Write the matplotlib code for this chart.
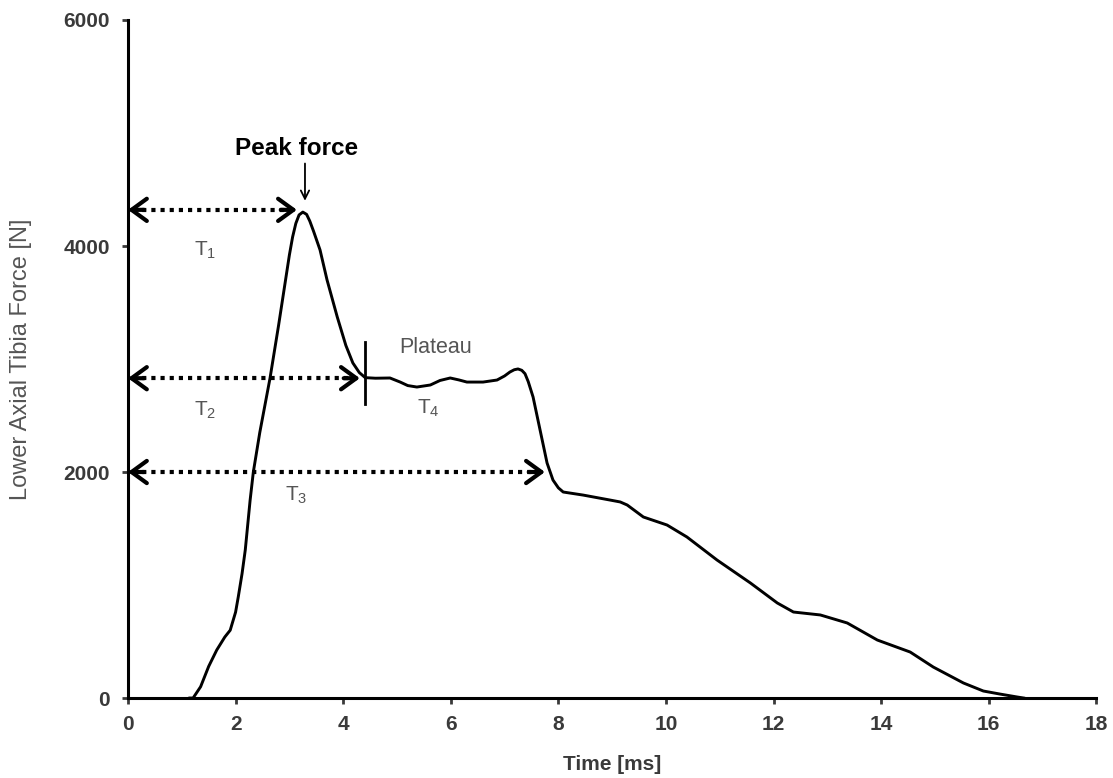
import numpy as np
import matplotlib
matplotlib.use("Agg")
import matplotlib.pyplot as plt

plt.rcParams['font.family'] = ['Liberation Sans', 'DejaVu Sans']
plt.rcParams['mathtext.fontset'] = 'custom'
plt.rcParams['mathtext.rm'] = 'Liberation Sans'
plt.rcParams['mathtext.it'] = 'Liberation Sans'

# force curve (time in ms, force in N)
time_ms = [1.15, 1.21, 1.35, 1.5, 1.65, 1.8, 1.9, 2.0, 2.05, 2.12, 2.18, 2.27, 2.33,
           2.45, 2.64, 2.8, 2.92, 3.0, 3.06, 3.12, 3.18, 3.25, 3.32, 3.38, 3.45, 3.57,
           3.7, 3.89, 4.05, 4.18, 4.3, 4.41, 4.6, 4.87, 5.06, 5.2, 5.37, 5.62, 5.8,
           5.99, 6.15, 6.3, 6.6, 6.86, 7.0, 7.1, 7.18, 7.25, 7.32, 7.38, 7.44, 7.53,
           7.66, 7.79, 7.9, 8.0, 8.09, 8.46, 8.96, 9.15, 9.28, 9.58, 10.02, 10.39,
           10.95, 11.57, 12.07, 12.37, 12.87, 13.37, 13.93, 14.54, 14.97, 15.53, 15.9,
           16.21, 16.53, 16.65]
force_n = [0, 0, 100, 280, 425, 540, 600, 760, 895, 1100, 1310, 1750, 2000,
           2350, 2830, 3300, 3672, 3920, 4080, 4200, 4275, 4300, 4280, 4220, 4130, 3965,
           3700, 3372, 3120, 2965, 2880, 2835, 2830, 2832, 2796, 2765, 2752, 2770, 2810,
           2832, 2815, 2796, 2796, 2814, 2850, 2885, 2905, 2912, 2900, 2870, 2800, 2664,
           2372, 2080, 1929, 1860, 1823, 1796, 1752, 1735, 1708, 1602, 1531, 1425,
           1221, 1018, 841, 761, 735, 664, 513, 407, 274, 133, 62,
           35, 9, 0]

# interval arrows: label, end time, force level, label position
intervals = [r'$\mathrm{T}_1$', r'$\mathrm{T}_2$', r'$\mathrm{T}_3$']
interval_end = [3.14, 4.31, 7.75]
interval_level = [4320, 2830, 2000]
label_pos = [(1.43, 3960), (1.43, 2550), (3.12, 1790)]

fig = plt.figure(figsize=(11.13, 7.78), dpi=100)
ax = fig.add_axes([0.115, 0.1028, 0.87, 0.8715])

ax.plot(time_ms, force_n, color='black', lw=2.1, solid_joinstyle='round')

head = dict(arrowstyle='->,head_length=0.55,head_width=0.4', mutation_scale=20,
            lw=3, color='black', shrinkA=0, shrinkB=0)
for name, end, lvl, pos in zip(intervals, interval_end, interval_level, label_pos):
    ax.plot([0.1, end - 0.1], [lvl, lvl], color='black', lw=3,
            linestyle=(0, (1, 1.2)), dash_capstyle='butt')
    ax.annotate('', xy=(end, lvl), xytext=(end - 0.3, lvl), arrowprops=head)
    ax.annotate('', xy=(0.0, lvl), xytext=(0.3, lvl), arrowprops=head)
    ax.text(pos[0], pos[1], name, fontsize=15, color='#555555', ha='center', va='center')

# plateau marker
ax.plot([4.41, 4.41], [2600, 3150], color='black', lw=2)
ax.text(5.71, 3100, 'Plateau', fontsize=15.5, color='#555555', ha='center', va='center')
ax.text(5.58, 2560, r'$\mathrm{T}_4$', fontsize=15, color='#555555', ha='center', va='center')

# peak force label
ax.text(3.14, 4860, 'Peak force', fontsize=17.5, fontweight='bold', color='black',
        ha='center', va='center')
ax.annotate('', xy=(3.29, 4400), xytext=(3.29, 4730),
            arrowprops=dict(arrowstyle='->,head_length=0.6,head_width=0.3', lw=1.3,
                            color='black', shrinkA=0, shrinkB=0))

ax.set_xlim(0, 18)
ax.set_ylim(0, 6000)
ax.set_xticks(np.arange(0, 19, 2))
ax.set_yticks([0, 2000, 4000, 6000])
for s in ['top', 'right']:
    ax.spines[s].set_visible(False)
for s in ['left', 'bottom']:
    ax.spines[s].set_linewidth(2.2)
ax.tick_params(direction='out', length=4, width=2, labelsize=15, colors='#3a3a3a')
ax.tick_params(axis='x', pad=8)
ax.tick_params(axis='y', pad=9)
for lab in ax.get_xticklabels() + ax.get_yticklabels():
    lab.set_fontweight('bold')

ax.set_xlabel('Time [ms]', fontsize=15, fontweight='bold', color='#3a3a3a', labelpad=15)
ax.set_ylabel('Lower Axial Tibia Force [N]', fontsize=17, color='#555555')
ax.yaxis.set_label_coords(-0.099, 0.5)

fig.savefig('out.png', dpi=100)
